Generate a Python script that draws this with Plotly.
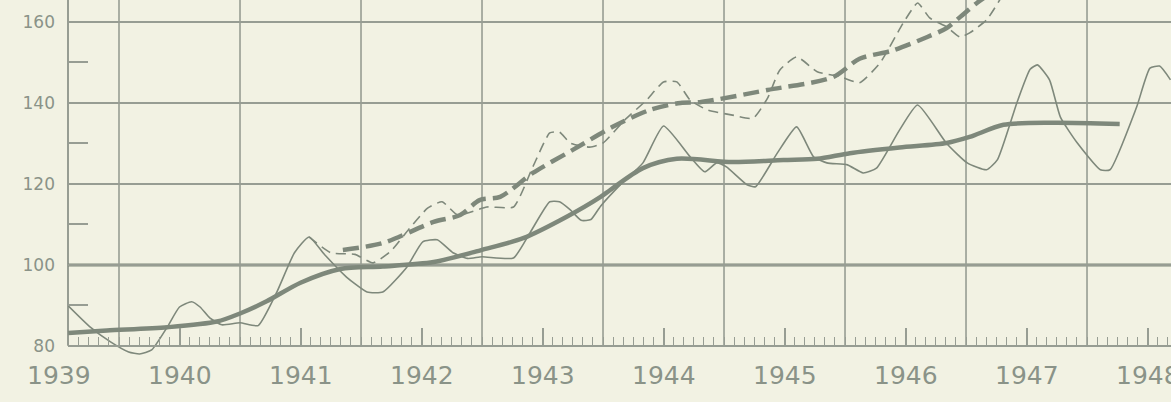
import plotly.graph_objects as go

# ---------------- data ----------------
year_labels = [1939, 1940, 1941, 1942, 1943, 1944, 1945, 1946, 1947, 1948]
grid_years = [1940, 1941, 1942, 1943, 1944, 1945, 1946, 1947, 1948]
y_ticks = [80, 100, 120, 140, 160]
y_minor = [90, 110, 130, 150]

# thin solid: actual (seasonal) index
actual_x = [1939.58, 1939.76, 1939.93, 1940.08, 1940.17, 1940.27, 1940.40, 1940.50,
            1940.60, 1940.67, 1940.75, 1940.85, 1941.00, 1941.15, 1941.30, 1941.45,
            1941.57, 1941.70, 1941.88, 1942.05, 1942.18, 1942.38, 1942.51, 1942.63,
            1942.76, 1942.88, 1943.00, 1943.26, 1943.40, 1943.56, 1943.64, 1943.73,
            1943.82, 1943.90, 1943.98, 1944.15, 1944.33, 1944.50, 1944.72, 1944.84,
            1944.94, 1945.02, 1945.19, 1945.26, 1945.44, 1945.60, 1945.74, 1945.85,
            1946.02, 1946.15, 1946.26, 1946.45, 1946.60, 1946.84, 1947.01, 1947.17,
            1947.26, 1947.42, 1947.53, 1947.59, 1947.69, 1947.78, 1947.92, 1948.11,
            1948.19, 1948.41, 1948.52, 1948.60, 1948.69]
actual_y = [89.9, 84.7, 81.0, 78.5, 78.0, 79.0, 84.7, 89.6,
            90.9, 89.6, 86.9, 85.2, 85.7, 85.0, 93.0, 103.0,
            106.9, 102.5, 97.0, 93.3, 93.3, 99.5, 105.7, 106.2,
            103.0, 101.6, 102.0, 101.7, 108.1, 115.6, 115.6, 113.6,
            111.0, 111.2, 114.5, 120.0, 125.2, 134.3, 126.7, 123.0,
            125.2, 124.2, 119.8, 119.3, 127.6, 134.1, 126.7, 125.2,
            124.7, 122.7, 123.9, 133.3, 139.5, 130.0, 125.2, 123.5,
            126.0, 140.0, 148.3, 149.4, 145.7, 136.5, 130.1, 123.5,
            123.5, 139.0, 148.6, 149.1, 145.7]

# thick solid: trend of actual index
trend_x = [1939.58, 1939.90, 1940.40, 1940.81, 1941.00, 1941.22, 1941.50, 1941.83,
           1942.18, 1942.60, 1943.00, 1943.34, 1943.70, 1943.98, 1944.06, 1944.33,
           1944.61, 1945.07, 1945.49, 1945.77, 1946.04, 1946.45, 1946.84, 1947.03,
           1947.31, 1947.72, 1948.27]
trend_y = [83.2, 83.8, 84.6, 86.0, 88.0, 91.0, 95.6, 99.0,
           99.6, 100.7, 103.7, 106.6, 111.9, 116.8, 118.5, 123.9,
           126.2, 125.4, 125.9, 126.2, 127.6, 129.0, 130.1, 131.6,
           134.6, 135.1, 134.8]

# thin dashed: second series (seasonal)
second_x = [1941.57, 1941.75, 1941.95, 1942.10, 1942.25, 1942.40, 1942.55, 1942.67,
            1942.80, 1943.04, 1943.26, 1943.42, 1943.56, 1943.64, 1943.73, 1943.89,
            1944.00, 1944.18, 1944.36, 1944.50, 1944.61, 1944.72, 1944.86, 1945.07,
            1945.24, 1945.36, 1945.46, 1945.60, 1945.77, 1945.96, 1946.12, 1946.29,
            1946.48, 1946.60, 1946.70, 1946.84, 1946.95, 1947.03, 1947.17, 1947.30]
second_y = [106.9, 103.0, 102.6, 100.5, 103.5, 109.0, 114.0, 115.6,
            112.3, 114.3, 114.3, 124.2, 132.6, 132.8, 130.1, 129.1,
            130.1, 135.8, 140.7, 145.2, 145.2, 140.7, 138.3, 137.0,
            136.2, 141.2, 148.1, 151.4, 147.7, 146.5, 145.0, 149.9,
            159.7, 164.7, 161.0, 158.8, 156.3, 157.3, 160.5, 166.5]

# thick dashed: trend of second series
second_trend_x = [1941.85, 1942.18, 1942.60, 1942.82, 1942.98, 1943.15, 1943.42, 1943.75,
                  1944.08, 1944.39, 1944.64, 1944.80, 1945.36, 1945.90, 1946.12, 1946.40,
                  1946.68, 1946.84, 1946.95, 1947.09, 1947.20]
second_trend_y = [103.7, 105.4, 110.6, 112.3, 116.0, 116.8, 122.7, 128.4,
                  134.1, 138.3, 140.0, 140.2, 143.2, 146.4, 150.9, 153.0,
                  156.3, 158.5, 161.2, 164.7, 167.0]

# ---------------- styling ----------------
BG = "#f2f2e3"
GRID = "#979d93"
LINE = "#7e887b"
TEXT = "#8a9388"

X0, X1 = 1939.5785, 1948.694
Y0, Y1 = 77.0, 165.43

fig = go.Figure()

fig.add_trace(go.Scatter(x=actual_x, y=actual_y, mode="lines",
                         line=dict(color=LINE, width=1.6, shape="spline", smoothing=0.5),
                         showlegend=False, hoverinfo="skip"))
fig.add_trace(go.Scatter(x=second_x, y=second_y, mode="lines",
                         line=dict(color=LINE, width=1.6, dash="10px,6px",
                                   shape="spline", smoothing=0.5),
                         showlegend=False, hoverinfo="skip"))
fig.add_trace(go.Scatter(x=trend_x, y=trend_y, mode="lines",
                         line=dict(color=LINE, width=4.5, shape="spline", smoothing=0.8),
                         showlegend=False, hoverinfo="skip"))
fig.add_trace(go.Scatter(x=second_trend_x, y=second_trend_y, mode="lines",
                         line=dict(color=LINE, width=4.5, dash="16px,7px",
                                   shape="spline", smoothing=0.8),
                         showlegend=False, hoverinfo="skip"))

shapes = []
# vertical year grid lines (from the 80 baseline upward)
for gy in grid_years:
    shapes.append(dict(type="line", xref="x", yref="y", x0=gy, x1=gy, y0=80, y1=Y1,
                       line=dict(color=GRID, width=1.6), layer="below"))
# left axis line
shapes.append(dict(type="line", xref="paper", yref="y", x0=0, x1=0, y0=80, y1=Y1,
                   line=dict(color=GRID, width=2), layer="below"))
# heavy 100 reference line
shapes.append(dict(type="line", xref="paper", yref="y", x0=0, x1=1, y0=100, y1=100,
                   line=dict(color=LINE, width=3), layer="below"))

annotations = []
for yr in year_labels:
    px = (yr + 0.5 - X0) / (X1 - X0)
    annotations.append(dict(text=str(yr), xref="paper", yref="paper", x=px, y=-0.048,
                            xanchor="center", yanchor="middle", showarrow=False,
                            font=dict(family="DejaVu Sans", size=25, color=TEXT)))

fig.update_layout(
    width=1171, height=402,
    margin=dict(l=68, r=0, t=0, b=44),
    paper_bgcolor=BG, plot_bgcolor=BG,
    shapes=shapes, annotations=annotations,
    showlegend=False,
    xaxis=dict(range=[X0, X1], anchor="free", position=(80 - Y0) / (Y1 - Y0),
               showgrid=False, zeroline=False, showticklabels=False,
               showline=True, linecolor=GRID, linewidth=2,
               tickmode="array", tickvals=[y + 0.5 for y in year_labels],
               ticks="inside", ticklen=17, tickwidth=1.5, tickcolor=GRID,
               minor=dict(tickmode="linear", tick0=1940, dtick=1 / 12, ticks="inside",
                          ticklen=8, tickwidth=1.3, tickcolor=GRID, showgrid=False)),
    yaxis=dict(range=[Y0, Y1], showgrid=True, gridcolor=GRID, gridwidth=1.6,
               zeroline=False, showline=False,
               tickmode="array", tickvals=y_ticks, ticktext=[str(v) for v in y_ticks],
               ticks="", ticklabelstandoff=12,
               tickfont=dict(family="DejaVu Sans", size=17, color=TEXT),
               minor=dict(tickmode="array", tickvals=y_minor, ticks="inside", ticklen=20,
                          tickwidth=2, tickcolor=GRID, showgrid=False)),
)

fig.write_html(
    "out.html",
    config={"displayModeBar": False},
    post_script="document.body.style.margin='0';document.body.style.background='%s';" % BG,
)
